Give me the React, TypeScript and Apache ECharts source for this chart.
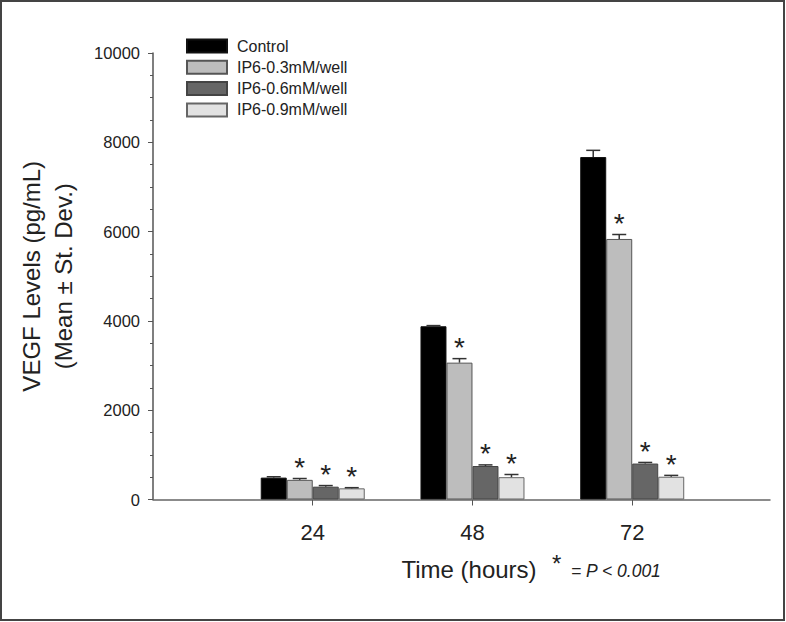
import React, { useEffect, useRef } from "react";
import * as echarts from "echarts";

const hours = [24, 48, 72];
const seriesNames = ["Control", "IP6-0.3mM/well", "IP6-0.6mM/well", "IP6-0.9mM/well"];
const controlMean = [490, 3880, 7670];
const controlSD = [20, 15, 150];
const ip603Mean = [440, 3065, 5835];
const ip603SD = [30, 90, 100];
const ip606Mean = [287, 750, 805];
const ip606SD = [25, 25, 25];
const ip609Mean = [250, 500, 510];
const ip609SD = [15, 60, 30];
const controlSig = [false, false, false];
const ip603Sig = [true, true, true];
const ip606Sig = [true, true, true];
const ip609Sig = [true, true, true];
const yTicks = [0, 2000, 4000, 6000, 8000, 10000];

const FONT = "'Liberation Sans', Arial, sans-serif";
const BAR_W = 26;
const fills = ["#000000", "#bdbdbd", "#666666", "#e2e2e2"];
const borders = ["#111111", "#555555", "#444444", "#666666"];

export default function App() {
  const ref = useRef<HTMLDivElement>(null);
  useEffect(() => {
    if (!ref.current) return;
    const chart = echarts.init(ref.current, null, { renderer: "svg" });
    const means = [controlMean, ip603Mean, ip606Mean, ip609Mean];
    const sds = [controlSD, ip603SD, ip606SD, ip609SD];
    const sigs = [controlSig, ip603Sig, ip606Sig, ip609Sig];

    const barSeries = seriesNames.map((name, k) => ({
      name,
      type: "bar",
      barWidth: BAR_W,
      barGap: "0%",
      itemStyle: { color: fills[k], borderColor: borders[k], borderWidth: 1 },
      data: hours.map((h, i) => [h, means[k][i]]),
      z: 2,
    }));

    const errSeries = seriesNames.map((name, k) => ({
      name: name + " SD",
      type: "custom",
      z: 3,
      data: hours.map((h, i) => [h, means[k][i], sds[k][i], sigs[k][i] ? 1 : 0]),
      encode: { x: 0, y: 1 },
      renderItem: (params: any, api: any) => {
        const x = api.value(0);
        const m = api.value(1);
        const sd = api.value(2);
        const sig = api.value(3);
        const base = api.coord([x, m]);
        const top = api.coord([x, m + sd]);
        const cx = base[0] + (k - 1.5) * BAR_W;
        const children: any[] = [
          {
            type: "line",
            shape: { x1: cx, y1: base[1], x2: cx, y2: top[1] },
            style: { stroke: "#333", lineWidth: 1.5 },
          },
          {
            type: "line",
            shape: { x1: cx - 7, y1: top[1], x2: cx + 7, y2: top[1] },
            style: { stroke: "#333", lineWidth: 1.5 },
          },
        ];
        if (sig) {
          children.push({
            type: "text",
            x: cx,
            y: top[1] - 11,
            style: {
              text: "*",
              fontSize: 28,
              fontFamily: FONT,
              fill: "#222",
              align: "center",
              verticalAlign: "middle",
            },
          });
        }
        return { type: "group", children };
      },
    }));

    chart.setOption({
      animation: false,
      backgroundColor: "#ffffff",
      grid: { left: 153, top: 53, width: 617, height: 446.5, containLabel: false },
      legend: {
        data: seriesNames,
        orient: "vertical",
        left: 186,
        top: 38,
        padding: 0,
        itemWidth: 40,
        itemHeight: 13,
        itemGap: 5.3,
        icon: "rect",
        textStyle: { fontSize: 16, color: "#222", fontFamily: FONT, padding: [0, 0, 0, 5] },
      },
      xAxis: {
        type: "value",
        min: 0,
        max: 92.7,
        interval: 24,
        name: "Time (hours)",
        nameLocation: "middle",
        nameGap: 58,
        nameTextStyle: { fontSize: 24, color: "#222", fontFamily: FONT, padding: [0, 0, 0, 15] },
        axisLine: { lineStyle: { color: "#666", width: 1.5 } },
        axisTick: { show: true, inside: false, length: 6, lineStyle: { color: "#555" }, customValues: hours },
        axisLabel: {
          fontSize: 22,
          color: "#222",
          fontFamily: FONT,
          margin: 22,
          customValues: hours,
          formatter: (v: number) => (hours.includes(v) ? String(v) : ""),
        },
        splitLine: { show: false },
      },
      yAxis: {
        type: "value",
        min: 0,
        max: 10000,
        interval: 2000,
        name: "VEGF Levels (pg/mL)\n(Mean ± St. Dev.)",
        nameLocation: "middle",
        nameGap: 74,
        nameTextStyle: { fontSize: 24, color: "#222", fontFamily: FONT, lineHeight: 32, align: "center" },
        axisLine: { show: true, lineStyle: { color: "#555", width: 1.5 } },
        axisTick: { show: true, inside: false, length: 5, lineStyle: { color: "#555" } },
        minorTick: { show: true, splitNumber: 4, length: 3, lineStyle: { color: "#555" } },
        axisLabel: {
          fontSize: 16.5,
          color: "#222",
          fontFamily: FONT,
          margin: 13,
          customValues: yTicks,
          formatter: (v: number) => String(v),
        },
        splitLine: { show: false },
      },
      graphic: [
        {
          type: "rect",
          shape: { x: 1, y: 1, width: 783, height: 619 },
          style: { fill: "none", stroke: "#444", lineWidth: 2 },
          silent: true,
        },
        {
          type: "text",
          left: 552,
          top: 551,
          style: { text: "*", fontSize: 24, fontFamily: FONT, fill: "#222" },
        },
        {
          type: "text",
          left: 571,
          top: 562,
          style: { text: "= P < 0.001", fontSize: 17.5, fontStyle: "italic", fontFamily: FONT, fill: "#222" },
        },
      ],
      series: [...barSeries, ...errSeries],
    });
    return () => chart.dispose();
  }, []);
  return (
    <div
      ref={ref}
      style={{ position: "fixed", left: 0, top: 0, width: 786, height: 622, background: "#fff" }}
    />
  );
}
